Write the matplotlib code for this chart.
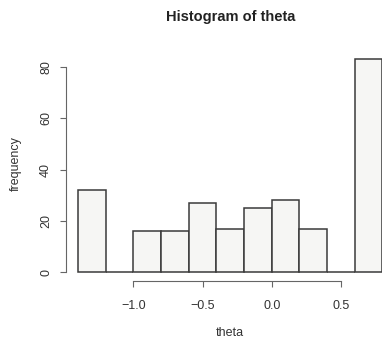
import numpy as np
import matplotlib
matplotlib.use("Agg")
import matplotlib.pyplot as plt

# histogram data (bins of width 0.2)
breaks = [-1.4, -1.2, -1.0, -0.8, -0.6, -0.4, -0.2, 0.0, 0.2, 0.4, 0.6, 0.8]
counts = [32, 0, 16, 16, 27, 17, 25, 28, 17, 0, 83]
xticks = [-1.0, -0.5, 0.0, 0.5]
yticks = [0, 20, 40, 60, 80]

plt.rcParams['font.family'] = ['Liberation Sans', 'DejaVu Sans']

W, H = 382, 338
fig = plt.figure(figsize=(W / 100, H / 100), dpi=100)

# plot region in pixels (R-style, right side is cropped off the image)
left_px, right_px = 66, 394.5
top_px, bottom_px = 50.3, 281
ax = fig.add_axes([left_px / W, 1 - bottom_px / H,
                   (right_px - left_px) / W, (bottom_px - top_px) / H])

lefts = np.array(breaks[:-1])
widths = np.diff(breaks)
ax.bar(lefts, counts, width=widths, align='edge', color='#f6f6f4',
       edgecolor='#3a3a3a', linewidth=1.1)

# R pads the range by 4%
xr = breaks[-1] - breaks[0]
ax.set_xlim(breaks[0] - 0.04 * xr, breaks[-1] + 0.04 * xr)
ymax = max(counts)
ax.set_ylim(-0.04 * ymax, ymax * 1.04)

for s in ['top', 'right']:
    ax.spines[s].set_visible(False)
ax.spines['left'].set_bounds(yticks[0], yticks[-1])
ax.spines['bottom'].set_bounds(xticks[0], xticks[-1])
for s in ['left', 'bottom']:
    ax.spines[s].set_color('#666666')
    ax.spines[s].set_linewidth(0.8)

ax.set_xticks(xticks)
ax.set_xticklabels([f"{v:.1f}".replace('-', '\u2212') for v in xticks])
ax.set_yticks(yticks)
ax.set_yticklabels([str(v) for v in yticks], rotation=90, va='center')
ax.tick_params(direction='out', length=4, width=0.8, colors='#666666',
               labelcolor='#333333', labelsize=9)
ax.tick_params(axis='y', pad=6)
ax.tick_params(axis='x', pad=10)

fig.text((left_px + right_px) / 2 / W, 1 - 17 / H, "Histogram of theta",
         ha='center', va='center', fontsize=10.5, fontweight='bold',
         color='#222222')
fig.text(16 / W, 1 - 164 / H, "frequency", rotation=90, ha='center',
         va='center', fontsize=9, color='#333333')
fig.text((left_px + right_px) / 2 / W, 1 - 333 / H, "theta", ha='center',
         va='center', fontsize=9, color='#333333')

fig.savefig("out.png", dpi=100)
